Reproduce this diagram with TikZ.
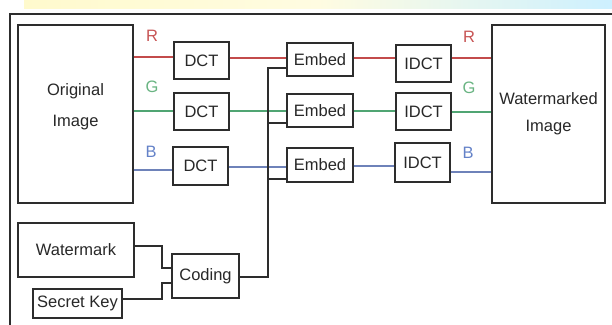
\documentclass[tikz,border=0pt]{standalone}
\usepackage{fontspec}
\setmainfont{Liberation Sans}
\definecolor{boxline}{RGB}{45,45,45}
\definecolor{txt}{RGB}{40,40,40}
\definecolor{rcol}{RGB}{195,75,75}
\definecolor{gcol}{RGB}{80,165,115}
\definecolor{bcol}{RGB}{110,130,185}
\definecolor{rlab}{RGB}{200,85,85}
\definecolor{glab}{RGB}{105,180,130}
\definecolor{blab}{RGB}{100,130,200}
\definecolor{bandY}{RGB}{255,250,205}
\definecolor{bandC}{RGB}{205,240,255}
\begin{document}
\begin{tikzpicture}[x=1pt,y=-1pt,
  blk/.style={draw=boxline,line width=1.2pt,fill=white,inner sep=0pt,font=\fontsize{16.5}{19}\selectfont,align=center,text=txt},
  txtnode/.style={inner sep=0pt,font=\fontsize{16.5}{19}\selectfont,align=center,text=txt},
  conn/.style={draw=boxline,line width=1.2pt},
  rline/.style={draw=rcol,line width=1.1pt},
  gline/.style={draw=gcol,line width=1.1pt},
  bline/.style={draw=bcol,line width=1.1pt},
  lab/.style={font=\fontsize{16.5}{19}\selectfont,inner sep=0pt}]
\useasboundingbox (0,0) rectangle (612,324);
\fill[white] (0,0) rectangle (612,324);
\shade[left color=bandY,right color=bandC,middle color=bandY!60!white] (24,0) rectangle (612,8);
% outer frame
\draw[boxline,line width=1.8pt] (10,326) -- (10,14) -- (614,14);
% blocks
\node[blk,minimum width=115,minimum height=178] (orig) at (75.5,114) {};
\node[txtnode] (origtxt) at (75.5,107) {Original\\[12pt]Image};
\node[blk,minimum width=113,minimum height=178] (wimg) at (548.5,114) {};
\node[txtnode] (wimgtxt) at (548.5,114) {Watermarked\\[8pt]Image};
\node[blk,minimum width=55,minimum height=37] (dct1) at (201.5,60.5) {DCT};
\node[blk,minimum width=55,minimum height=37] (dct2) at (201.5,111.5) {DCT};
\node[blk,minimum width=55,minimum height=38] (dct3) at (200.5,166) {DCT};
\node[blk,minimum width=66,minimum height=33] (emb1) at (320,59.5) {Embed};
\node[blk,minimum width=66,minimum height=33] (emb2) at (320,110.5) {Embed};
\node[blk,minimum width=66,minimum height=34] (emb3) at (320,165) {Embed};
\node[blk,minimum width=55,minimum height=37] (idct1) at (423.5,63.5) {IDCT};
\node[blk,minimum width=55,minimum height=37] (idct2) at (423.5,111.5) {IDCT};
\node[blk,minimum width=55,minimum height=39] (idct3) at (422.5,162.5) {IDCT};
\node[blk,minimum width=116,minimum height=54] (wmark) at (76,250) {Watermark};
\node[blk,minimum width=89,minimum height=29] (skey) at (77.5,303.5) {Secret Key};
\node[blk,minimum width=67,minimum height=44] (coding) at (205.5,276) {Coding};
% colour labels
\node[lab,text=rlab] (lr1) at (152,36) {R};
\node[lab,text=glab] (lg1) at (152,87) {G};
\node[lab,text=blab] (lb1) at (151,152) {B};
\node[lab,text=rlab] (lr2) at (469,37) {R};
\node[lab,text=glab] (lg2) at (469,88) {G};
\node[lab,text=blab] (lb2) at (468,153) {B};
% channel lines
\draw[rline] (orig.east |- 0,57) -- (dct1.west |- 0,57);
\draw[rline] (dct1.east |- 0,58) -- (emb1.west |- 0,58);
\draw[rline] (emb1.east |- 0,58) -- (idct1.west |- 0,58);
\draw[rline] (idct1.east |- 0,58) -- (wimg.west |- 0,58);
\draw[gline] (orig.east |- 0,111) -- (dct2.west |- 0,111);
\draw[gline] (dct2.east |- 0,111) -- (emb2.west |- 0,111);
\draw[gline] (emb2.east |- 0,111) -- (idct2.west |- 0,111);
\draw[gline] (idct2.east |- 0,112) -- (wimg.west |- 0,112);
\draw[bline] (orig.east |- 0,170) -- (dct3.west |- 0,170);
\draw[bline] (dct3.east |- 0,167) -- (emb3.west |- 0,167);
\draw[bline] (emb3.east |- 0,166) -- (idct3.west |- 0,166);
\draw[bline] (idct3.east |- 0,172) -- (wimg.west |- 0,172);
% coding inputs
\draw[conn] (wmark.east |- 0,246) -- (162,246) -- (162,268) -- (coding.west |- 0,268);
\draw[conn] (skey.east |- 0,299) -- (162,299) -- (162,283) -- (coding.west |- 0,283);
% bus to embed blocks
\draw[conn] (coding.east |- 0,277) -- (268,277) -- (268,68) -- (emb1.west |- 0,68);
\draw[conn] (268,123) -- (emb2.west |- 0,123);
\draw[conn] (268,179) -- (emb3.west |- 0,179);
\end{tikzpicture}
\end{document}
